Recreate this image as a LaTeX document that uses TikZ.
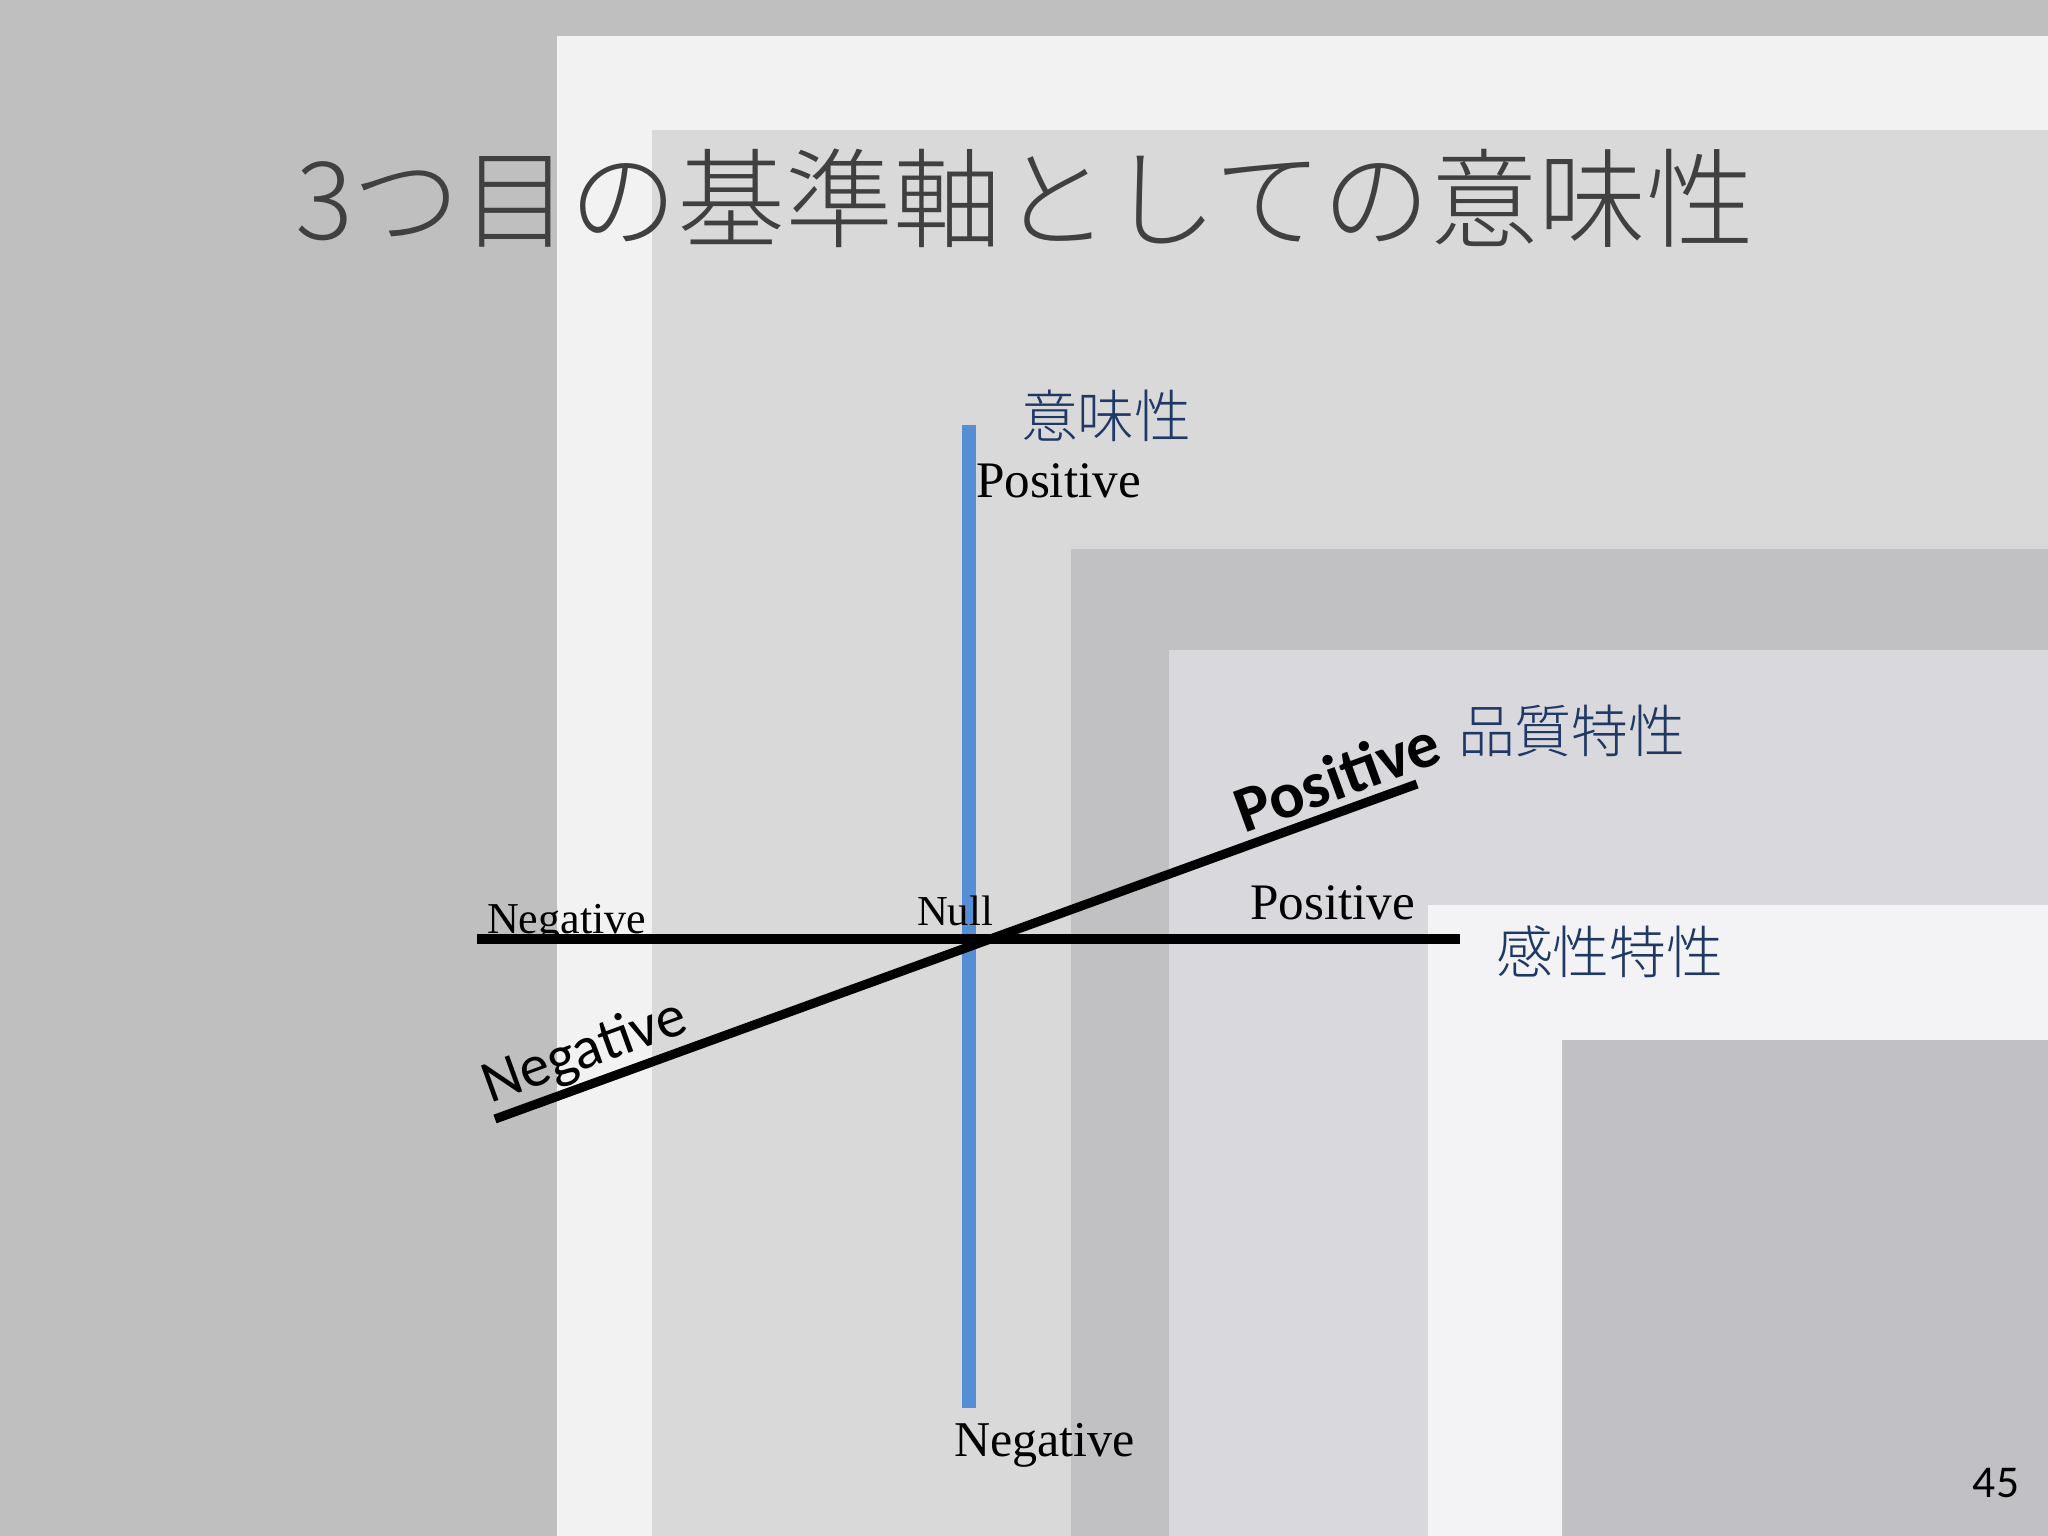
\documentclass[tikz,border=0pt]{standalone}
\usepackage{fontspec}
\setmainfont{Liberation Serif}
\newfontfamily\cjk{Noto Sans CJK JP}
\newfontfamily\cjklight{Noto Sans CJK JP Light}
\newfontfamily\calib{Carlito}
\definecolor{outergrey}{HTML}{BFBFBF}
\definecolor{paleA}{HTML}{F2F2F2}
\definecolor{midB}{HTML}{D9D9D9}
\definecolor{darkC}{HTML}{C1C0C3}
\definecolor{midD}{HTML}{D9D8DC}
\definecolor{paleE}{HTML}{F3F3F5}
\definecolor{darkF}{HTML}{C1C0C4}
\definecolor{axisblue}{HTML}{558ED5}
\definecolor{navy}{HTML}{1F3864}
\definecolor{titlegrey}{HTML}{404040}
\tikzset{
  lbl/.style={inner sep=0pt, outer sep=0pt, text=black},
  jplbl/.style={inner sep=0pt, outer sep=0pt, text=navy, font=\cjklight\fontsize{20}{22}\selectfont},
  axisline/.style={line width=3.2pt},
  blueaxis/.style={line width=4.9pt, draw=axisblue},
}
\begin{document}
\begin{tikzpicture}[x=0.3515625pt, y=-0.3515625pt]
\useasboundingbox (0,0) rectangle (2048,1536);
% background bands
\fill[outergrey] (0,0) rectangle (2048,1536);
\fill[paleA] (557,36) rectangle (2048,1536);
\fill[midB] (652,130) rectangle (2048,1536);
\fill[darkC] (1071,549) rectangle (2048,1536);
\fill[midD] (1169,650) rectangle (2048,1536);
\fill[paleE] (1428,905) rectangle (2048,1536);
\fill[darkF] (1562,1040) rectangle (2048,1536);
% title
\node[inner sep=0pt, text=titlegrey, font=\cjklight\fontsize{38}{40}\selectfont] (title) at (1025,198) {3つ目の基準軸としての意味性};
% axis end points
\coordinate (vT) at (969,425);
\coordinate (vB) at (969,1408);
\coordinate (hL) at (477,939);
\coordinate (hR) at (1460,939);
\coordinate (dL) at (495,1119);
\coordinate (dR) at (1417,784);
% axes
\draw[blueaxis] (vT) -- (vB);
\draw[axisline] (hL) -- (hR);
\draw[axisline] (dL) -- (dR);
% labels
\node[jplbl, anchor=west] (imi) at (1021,416) {意味性};
\node[lbl, anchor=base west, font=\fontsize{18}{20}\selectfont] (vpos) at (976,498) {Positive};
\node[lbl, anchor=base west, font=\fontsize{17.6}{20}\selectfont] (vneg) at (954,1456) {Negative};
\node[lbl, anchor=base west, font=\fontsize{15.5}{18}\selectfont] (hneg) at (487,933) {Negative};
\node[lbl, anchor=base west, font=\fontsize{15}{18}\selectfont] (null) at (917,925) {Null};
\node[lbl, anchor=base west, font=\fontsize{18}{20}\selectfont] (hpos) at (1250,919) {Positive};
\node[jplbl, anchor=west] (kansei) at (1496,952) {感性特性};
\node[jplbl, anchor=west] (hinshitsu) at (1458,731) {品質特性};
\node[lbl, rotate=20, font=\calib\bfseries\fontsize{23}{25}\selectfont] (dpos) at (1337,776) {Positive};
\node[lbl, rotate=20, font=\calib\fontsize{21}{23}\selectfont] (dneg) at (585,1053) {Negative};
\node[lbl, font=\calib\fontsize{16}{18}\selectfont] (page) at (1996,1483) {45};
\end{tikzpicture}
\end{document}
